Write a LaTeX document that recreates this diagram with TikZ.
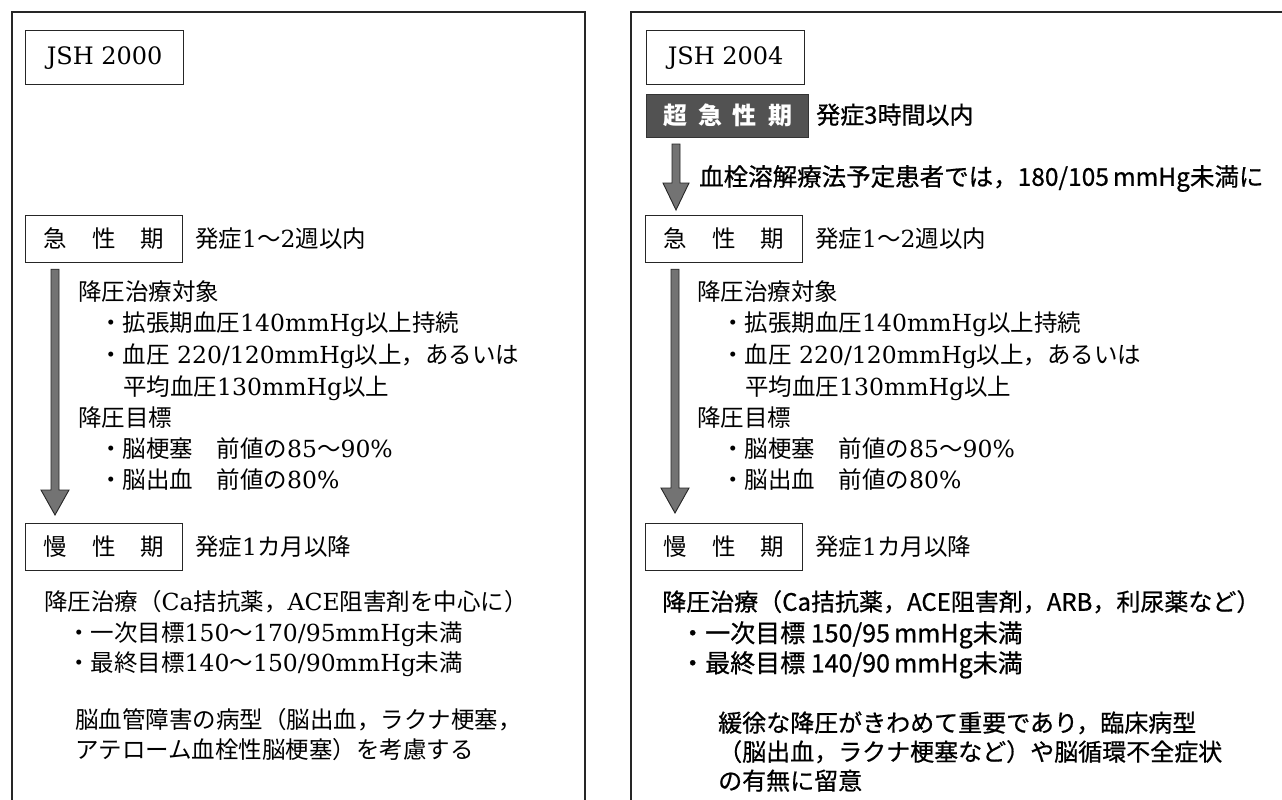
\documentclass[tikz,border=0pt]{standalone}
\usepackage{fontspec}
\setmainfont{Noto Sans CJK JP}
\newfontfamily\se{DejaVu Serif}
\newfontfamily\gmed[FakeBold=0.7]{Noto Sans CJK JP}
\usetikzlibrary{calc}

\tikzset{
 outerframe/.style={draw=black!85, line width=1.4pt},
 phasebox/.style={draw=black!85, line width=1.2pt, anchor=north west, minimum width=157pt, minimum height=47pt, inner sep=0pt, text height=20.5pt, text depth=3pt, font=\fontsize{23.5pt}{28pt}\selectfont},
 jshbox/.style={draw=black!85, line width=1.2pt, anchor=north west, minimum width=158pt, minimum height=54pt, inner sep=0pt, font=\se\fontsize{24pt}{28pt}\selectfont},
 hyperbox/.style={fill=black!68, draw=black!80, line width=1pt, anchor=north west, minimum width=162pt, minimum height=43pt, inner sep=0pt, text=white, text height=20.5pt, text depth=3pt, font=\bfseries\fontsize{24pt}{28pt}\selectfont},
 mtxt/.style={anchor=west, inner sep=0pt, text height=20.5pt, text depth=3pt, font=\fontsize{23.5pt}{28pt}\selectfont},
 gtxt/.style={anchor=west, inner sep=0pt, text height=20.5pt, text depth=3pt, font=\gmed\fontsize{24pt}{28pt}\selectfont},
 gbig/.style={anchor=west, inner sep=0pt, text height=21.5pt, text depth=3pt, font=\gmed\fontsize{25pt}{30pt}\selectfont},
 fatarrow/.style={fill=black!55, draw=black!85, line width=0.9pt},
}
\newcommand\fatarr[4]{\filldraw[fatarrow] let \p1=(#1), \p2=(#2) in
 (\x1-4pt,\y1) -- (\x1+4pt,\y1) -- (\x1+4pt,\y2+#3) -- (\x1+#4,\y2+#3) -- (\x1,\y2) -- (\x1-#4,\y2+#3) -- (\x1-4pt,\y2+#3) -- cycle;}

\begin{document}
\begin{tikzpicture}[x=1pt,y=-1pt]
\useasboundingbox (0,0) rectangle (1282,800);
\clip (0,0) rectangle (1282,800);
\fill[white] (0,0) rectangle (1282,800);
% outer frames
\draw[outerframe] (12,12) rectangle (585,815);
\draw[outerframe] (631,12) rectangle (1300,815);

% ---------------- left column: JSH 2000 ----------------
\node[jshbox] (jshA) at (25,30) {JSH 2000};
\node[phasebox] (acuteL) at (25,215) {急\hspace{25pt}性\hspace{25pt}期};
\node[mtxt] (acuteLt) at (195,239) {発症{\se 1}～{\se 2}週以内};
\node[mtxt] (lA1) at (78,292) {降圧治療対象};
\node[mtxt] (lA2) at (99,323) {・拡張期血圧{\se 140mmHg}以上持続};
\node[mtxt] (lA3) at (99,355) {・血圧{\se\ 220/120mmHg}以上，あるいは};
\node[mtxt] (lA4) at (123,387) {平均血圧{\se 130mmHg}以上};
\node[mtxt] (lA5) at (78,418) {降圧目標};
\node[mtxt] (lA6) at (99,449) {・脳梗塞　前値の{\se 85}～{\se 90\%}};
\node[mtxt] (lA7) at (99,480) {・脳出血　前値の{\se 80\%}};
\node[phasebox] (chronL) at (25,523) {慢\hspace{25pt}性\hspace{25pt}期};
\node[mtxt] (chronLt) at (195,547) {発症{\se 1}カ月以降};
\node[mtxt] (lB1) at (44,602) {降圧治療（{\se Ca}拮抗薬，{\se ACE}阻害剤を中心に）};
\node[mtxt] (lB2) at (67,633) {・一次目標{\se 150}～{\se 170/95mmHg}未満};
\node[mtxt] (lB3) at (67,663) {・最終目標{\se 140}～{\se 150/90mmHg}未満};
\node[mtxt] (lB4) at (75,720) {脳血管障害の病型（脳出血，ラクナ梗塞，};
\node[mtxt] (lB5) at (75,750) {アテローム血栓性脳梗塞）を考慮する};

\coordinate (aLs) at ($(acuteL.south west)+(30,6)$);
\coordinate (aLe) at ($(chronL.north west)+(30,-8)$);
\fatarr{aLs}{aLe}{25pt}{14pt}

% ---------------- right column: JSH 2004 ----------------
\node[jshbox] (jshB) at (646,30) {JSH 2004};
\node[hyperbox] (hyper) at (646,94) {超\hspace{11pt}急\hspace{11pt}性\hspace{11pt}期};
\node[gtxt] (hyperT) at (816,115) {発症3時間以内};
\node[gtxt, font=\gmed\fontsize{24.5pt}{28pt}\selectfont] (thromb) at (699,177) {血栓溶解療法予定患者では，180/105\,mmHg未満に};
\node[phasebox] (acuteR) at (645,215) {急\hspace{25pt}性\hspace{25pt}期};
\node[mtxt] (acuteRt) at (815,239) {発症{\se 1}～{\se 2}週以内};
\node[mtxt] (rA1) at (697,292) {降圧治療対象};
\node[mtxt] (rA2) at (721,323) {・拡張期血圧{\se 140mmHg}以上持続};
\node[mtxt] (rA3) at (721,355) {・血圧{\se\ 220/120mmHg}以上，あるいは};
\node[mtxt] (rA4) at (745,387) {平均血圧{\se 130mmHg}以上};
\node[mtxt] (rA5) at (697,418) {降圧目標};
\node[mtxt] (rA6) at (721,449) {・脳梗塞　前値の{\se 85}～{\se 90\%}};
\node[mtxt] (rA7) at (721,480) {・脳出血　前値の{\se 80\%}};
\node[phasebox] (chronR) at (645,523) {慢\hspace{25pt}性\hspace{25pt}期};
\node[mtxt] (chronRt) at (815,547) {発症{\se 1}カ月以降};
\node[gtxt] (rB1) at (662,602) {降圧治療（Ca拮抗薬，ACE阻害剤，ARB，利尿薬など）};
\node[gbig] (rB2) at (680,633) {・一次目標 150/95\,mmHg未満};
\node[gbig] (rB3) at (680,663) {・最終目標 140/90\,mmHg未満};
\node[gtxt] (rB4) at (718,723) {緩徐な降圧がきわめて重要であり，臨床病型};
\node[gtxt] (rB5) at (718,752) {（脳出血，ラクナ梗塞など）や脳循環不全症状};
\node[gtxt] (rB6) at (718,781) {の有無に留意};

\coordinate (a1s) at ($(hyper.south west)+(30,6)$);
\coordinate (a1e) at ($(acuteR.north west)+(31,-5)$);
\fatarr{a1s}{a1e}{27pt}{13pt}
\coordinate (aRs) at ($(acuteR.south west)+(30,6)$);
\coordinate (aRe) at ($(chronR.north west)+(30,-10)$);
\fatarr{aRs}{aRe}{25pt}{14pt}
\end{tikzpicture}
\end{document}
